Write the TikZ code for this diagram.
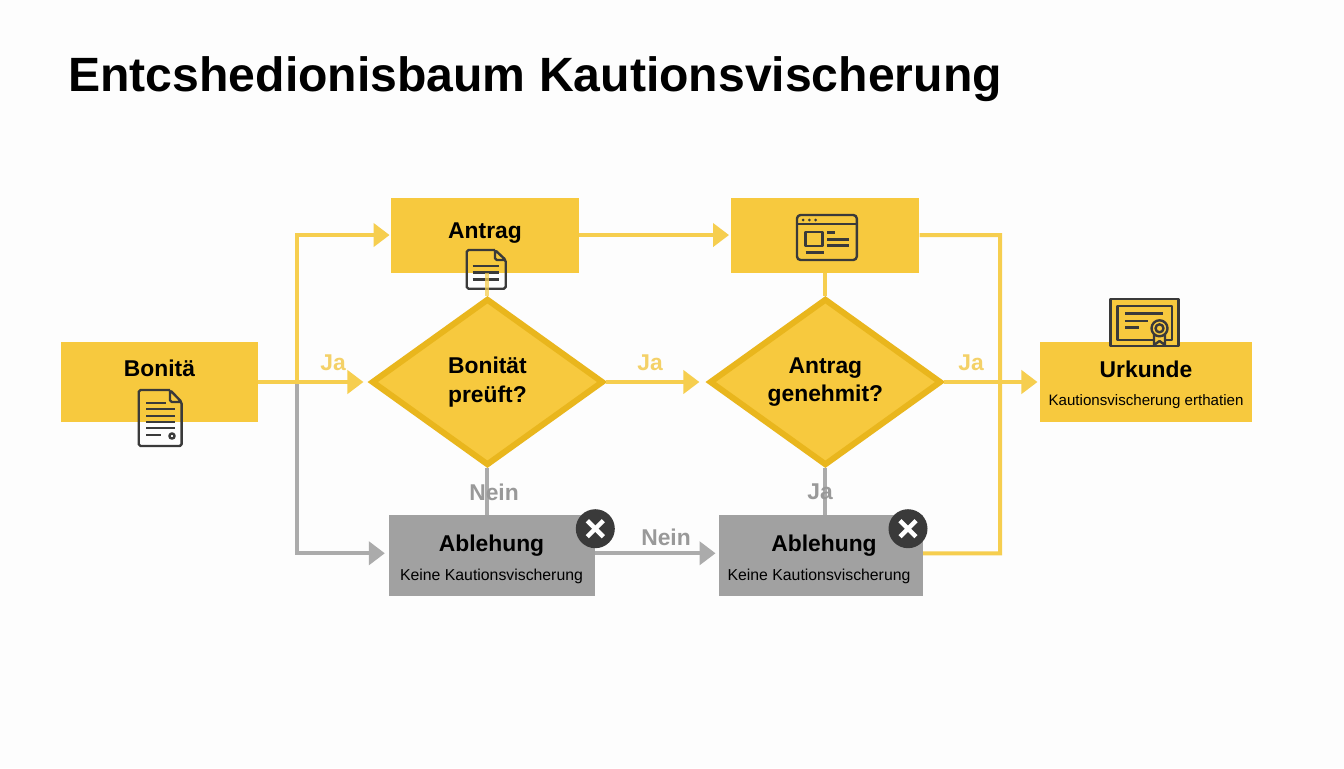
\documentclass[tikz,border=0pt]{standalone}
\usepackage{fontspec}
\setmainfont{Liberation Sans}
\usetikzlibrary{shapes.geometric, arrows.meta}
\definecolor{goldfill}{HTML}{F7C93E}
\definecolor{goldedge}{HTML}{E9B61D}
\definecolor{goldline}{HTML}{F6CE4F}
\definecolor{goldtext}{HTML}{F4D168}
\definecolor{greyfill}{HTML}{A1A1A1}
\definecolor{greyline}{HTML}{ABABAB}
\definecolor{greytext}{HTML}{999999}
\definecolor{inkdark}{HTML}{3A3A3A}
\definecolor{paper}{HTML}{FDFDFD}
\tikzstyle{process} = [rectangle, draw=none, fill=goldfill, inner sep=0pt, text centered]
\tikzstyle{process_grey} = [process, fill=greyfill, minimum height=1.62cm]
\tikzstyle{decision} = [diamond, draw=goldedge, line width=0.12cm, fill=goldfill, inner sep=0pt, minimum width=4.64cm, minimum height=3.34cm, text centered, align=center, font=\fontsize{13}{16.4}\selectfont\bfseries]
\tikzstyle{caption} = [inner sep=0pt, font=\fontsize{13}{16}\selectfont\bfseries]
\tikzstyle{caption_sub} = [inner sep=0pt, font=\fontsize{9}{11}\selectfont]
\tikzstyle{edge_ja} = [text=goldtext, font=\fontsize{13}{16}\selectfont\bfseries]
\tikzstyle{edge_nein} = [text=greytext, font=\fontsize{13}{16}\selectfont\bfseries]
\tikzstyle{arrow} = [line width=0.08cm, draw=goldline, -{Triangle[length=0.32cm,width=0.46cm]}]
\tikzstyle{arrow_grey} = [line width=0.08cm, draw=greyline, -{Triangle[length=0.32cm,width=0.46cm]}]
\tikzstyle{link} = [line width=0.08cm, draw=goldline]
\tikzstyle{link_grey} = [line width=0.08cm, draw=greyline]
\tikzstyle{icon} = [line width=0.048cm, draw=inkdark, line join=round]
\tikzstyle{badge} = [circle, draw=none, fill=inkdark, inner sep=0pt, minimum size=0.78cm]
\tikzstyle{cross} = [line width=0.09cm, draw=white]
\begin{document}
\begin{tikzpicture}[x=0.02cm, y=-0.02cm]
	\path [use as bounding box, fill=paper] (0,0) rectangle (1344,768);
	\node (title) [anchor=west, inner sep=0pt, font=\fontsize{27.4}{32}\selectfont\bfseries] at (68,79) {Entcshedionisbaum Kautionsvischerung};

	\node (bonita) [process, minimum width=3.94cm, minimum height=1.6cm] at (159.5,382) {};
	\node (dec1) [decision, node distance=6.56cm, right of=bonita] {Bonität\\preüft?};
	\node (dec2) [decision, node distance=6.76cm, right of=dec1] {Antrag\\genehmit?};
	\node (urkunde) [process, minimum width=4.24cm, minimum height=1.6cm, node distance=6.41cm, right of=dec2] {};
	\node (antrag) [process, minimum width=3.76cm, minimum height=1.5cm, node distance=2.94cm, above of=dec1, xshift=-0.05cm] {};
	\node (web) [process, minimum width=3.76cm, minimum height=1.5cm, node distance=2.94cm, above of=dec2] {};
	\node (abl1) [process_grey, minimum width=4.11cm, node distance=3.47cm, below of=dec1, xshift=0.09cm] {};
	\node (abl2) [process_grey, minimum width=4.08cm, node distance=3.47cm, below of=dec2, xshift=-0.09cm] {};

	% box captions
	\node (bonita_txt) [caption] at (159.5,368) {Bonitä};
	\node (antrag_txt) [caption] at (485,233.5) {Antrag};
	\node (urkunde_txt) [caption] at (1146,369) {Urkunde};
	\node (urkunde_sub) [caption_sub, font=\fontsize{8.6}{11}\selectfont] at (1146,402) {Kautionsvischerung erthatien};
	\node (abl1_txt) [caption] at (491.5,546) {Ablehung};
	\node (abl1_sub) [caption_sub] at (491.5,576) {Keine Kautionsvischerung};
	\node (abl2_txt) [caption] at (824,546) {Ablehung};
	\node (abl2_sub) [caption_sub] at (819,576) {Keine Kautionsvischerung};

	% icons
	\draw [icon, rounded corners=1pt] (170,390) -- (138.7,390) -- (138.7,446) -- (181.6,446) -- (181.6,402) -- (170,390) |- (181.6,402);
	\foreach \yy/\xe in {403/165.5,409/175,416/175,422/175,428/175,435/160.5}
		\draw [icon] (146,\yy) -- (\xe,\yy);
	\draw [icon] (172,436) circle (2.6);
	\draw [icon, rounded corners=1pt] (495,250) -- (466.7,250) -- (466.7,288.7) -- (505.7,288.7) -- (505.7,260) -- (495,250) |- (505.7,260);
	\foreach \yy in {265.7,272.3,279.3}
		\draw [icon] (472.5,\yy) -- (499,\yy);
	\draw [icon, rounded corners=2pt] (797,215) rectangle (856.8,260);
	\draw [icon] (797,224) -- (856.8,224);
	\foreach \xx in {803,809.4,815.5}
		\fill [inkdark] (\xx,220) circle (1.5);
	\draw [icon] (805.5,231.7) rectangle (822.4,246);
	\draw [icon] (827.3,232.3) -- (835,232.3);
	\draw [icon] (827.3,239.3) -- (849,239.3);
	\draw [icon] (827.3,245.3) -- (849,245.3);
	\draw [icon] (805.5,252.3) -- (823.9,252.3);
	\draw [icon, fill=goldfill] (1110.5,298.7) rectangle (1178.3,345.7);
	\draw [icon] (1117.4,306) rectangle (1171.8,340);
	\draw [icon] (1125,313.3) -- (1163,313.3);
	\draw [icon] (1125,320.7) -- (1147.7,320.7);
	\draw [icon] (1125,327.3) -- (1138.5,327.3);
	\draw [icon, fill=goldfill] (1154,335) -- (1154,345) -- (1159.5,341) -- (1165,345) -- (1165,335);
	\draw [icon, fill=goldfill] (1159.5,328.3) circle (8);
	\draw [icon] (1159.5,328.3) circle (4);

	% connectors
	\coordinate (junction) at (297,382);
	\coordinate (abl1_in) at ([yshift=0.044cm]abl1.west);
	\coordinate (abl1_out) at ([yshift=0.044cm]abl1.east);
	\coordinate (abl2_in) at ([yshift=0.044cm]abl2.west);
	\coordinate (abl2_out) at ([yshift=0.044cm]abl2.east);
	\coordinate (turn) at (1000,553.3);
	\draw [arrow_grey, shorten >=0.08cm] (junction) |- (abl1_in);
	\draw [link_grey] (dec1.south) -- (dec1.south |- abl1.north);
	\draw [link_grey] (dec2.south) -- (abl2.north -| dec2.south);
	\draw [arrow_grey, shorten >=0.06cm] (abl1_out) -- (abl2_in);
	\draw [arrow, shorten >=0.02cm] (junction) |- (antrag);
	\draw [arrow, shorten >=0.1cm] (bonita.east) -- (dec1.west);
	\draw [arrow, shorten >=0.14cm] (dec1.east) -- (dec2.west);
	\draw [arrow, shorten >=0.04cm] (dec2.east) -- (urkunde.west);
	\draw [arrow, shorten >=0.04cm] (antrag) -- (web);
	\draw [link, opacity=0.75] (antrag.south -| dec1.north) -- (dec1.north);
	\draw [link] (web.south -| dec2.north) -- (dec2.north);
	\draw [link] (web.east) -| (turn) -- (abl2_out);

	% edge labels
	\node (ja1) [edge_ja] at (333,362.5) {Ja};
	\node (ja2) [edge_ja] at (650,362.5) {Ja};
	\node (ja3) [edge_ja] at (971,362.5) {Ja};
	\node (nein1) [edge_nein] at (494,492) {Nein};
	\node (ja4) [edge_nein] at (820,492) {Ja};
	\node (nein2) [edge_nein] at (666,537) {Nein};

	% reject badges
	\node (badge1) [badge] at (595.3,528.7) {};
	\node (badge2) [badge] at (908,528.7) {};
	\foreach \bb in {badge1,badge2} {
		\draw [cross] ([shift={(-8,-8)}]\bb.center) -- ([shift={(8,8)}]\bb.center);
		\draw [cross] ([shift={(-8,8)}]\bb.center) -- ([shift={(8,-8)}]\bb.center);
	}
\end{tikzpicture}
\end{document}
